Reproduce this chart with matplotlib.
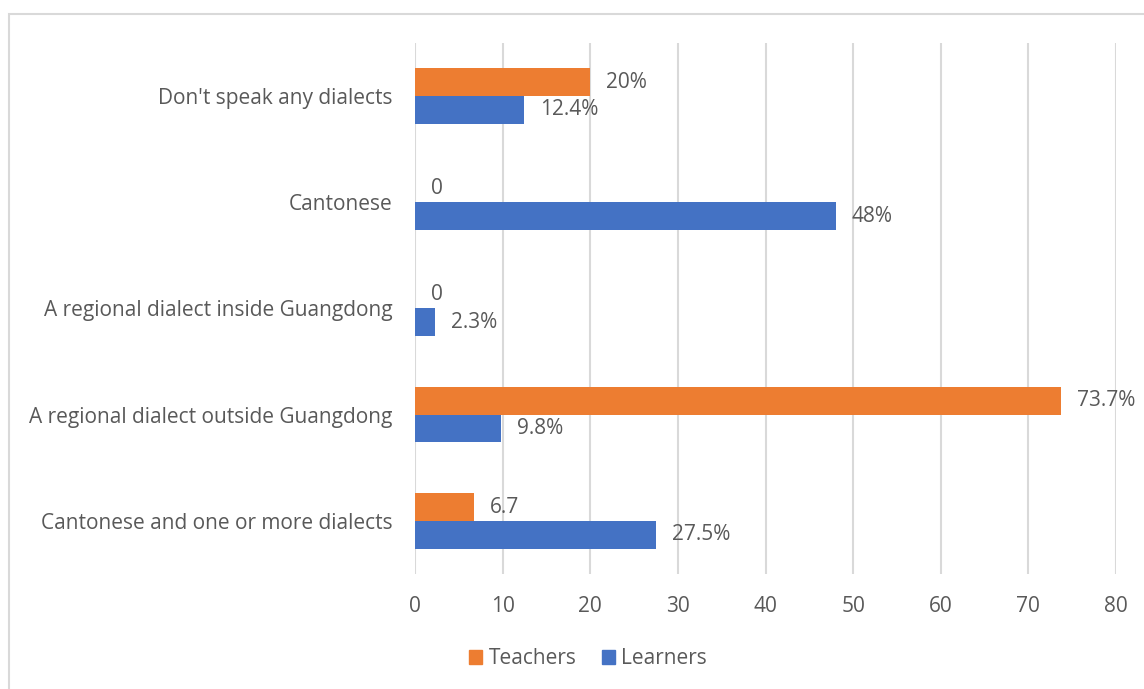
import matplotlib
matplotlib.use("Agg")
import matplotlib.pyplot as plt
from matplotlib.patches import Rectangle, Patch
import numpy as np

categories = ["Don't speak any dialects", "Cantonese", "A regional dialect inside Guangdong",
              "A regional dialect outside Guangdong", "Cantonese and one or more dialects"]
teachers = [20, 0, 0, 73.7, 6.7]
learners = [12.4, 48, 2.3, 9.8, 27.5]
teacher_labels = ["20%", "0", "0", "73.7%", "6.7"]
learner_labels = ["12.4%", "48%", "2.3%", "9.8%", "27.5%"]
xticks = [0, 10, 20, 30, 40, 50, 60, 70, 80]

plt.rcParams['font.family'] = ['Open Sans', 'DejaVu Sans']
TXT = '#595959'
ORANGE = '#ED7D31'
BLUE = '#4472C4'
FS = 15

fig = plt.figure(figsize=(11.44, 6.89), dpi=100)
ax = fig.add_axes([415/1144, 1-574/689, (1116-415)/1144, (574-43)/689])

y = np.arange(len(categories))
h = 0.26
ax.barh(y - h/2, teachers, height=h, color=ORANGE, zorder=3)
ax.barh(y + h/2, learners, height=h, color=BLUE, zorder=3)

for yi, v, lab in zip(y, teachers, teacher_labels):
    ax.annotate(lab, (v, yi - h/2), xytext=(11.5, 0), textcoords='offset points',
                va='center', ha='left', fontsize=FS, color=TXT)
for yi, v, lab in zip(y, learners, learner_labels):
    ax.annotate(lab, (v, yi + h/2), xytext=(11.5, 0), textcoords='offset points',
                va='center', ha='left', fontsize=FS, color=TXT)

ax.set_ylim(len(categories) - 0.5, -0.5)
ax.set_xlim(0, 80)
ax.set_xticks(xticks)
ax.set_yticks(y)
ax.set_yticklabels(categories)
ax.tick_params(axis='both', length=0, labelsize=FS, colors=TXT)
ax.tick_params(axis='y', pad=16)
ax.tick_params(axis='x', pad=16)
ax.grid(axis='x', color='#D9D9D9', linewidth=1.5, zorder=0)
ax.set_axisbelow(True)
for s in ax.spines.values():
    s.set_visible(False)

handles = [Patch(color=ORANGE, label='Teachers'), Patch(color=BLUE, label='Learners')]
fig.legend(handles=handles, loc='center', bbox_to_anchor=(588/1144, 1-659/689), ncol=2,
           frameon=False, fontsize=FS, labelcolor=TXT, handlelength=0.65, handleheight=0.65,
           handletextpad=0.3, columnspacing=1.2)

fig.patches.append(Rectangle((9/1144, -0.1), 1.2, 1 - 14/689 + 0.1, transform=fig.transFigure,
                             fill=False, edgecolor='#D9D9D9', linewidth=1.5))

fig.savefig('out.png', dpi=100)
